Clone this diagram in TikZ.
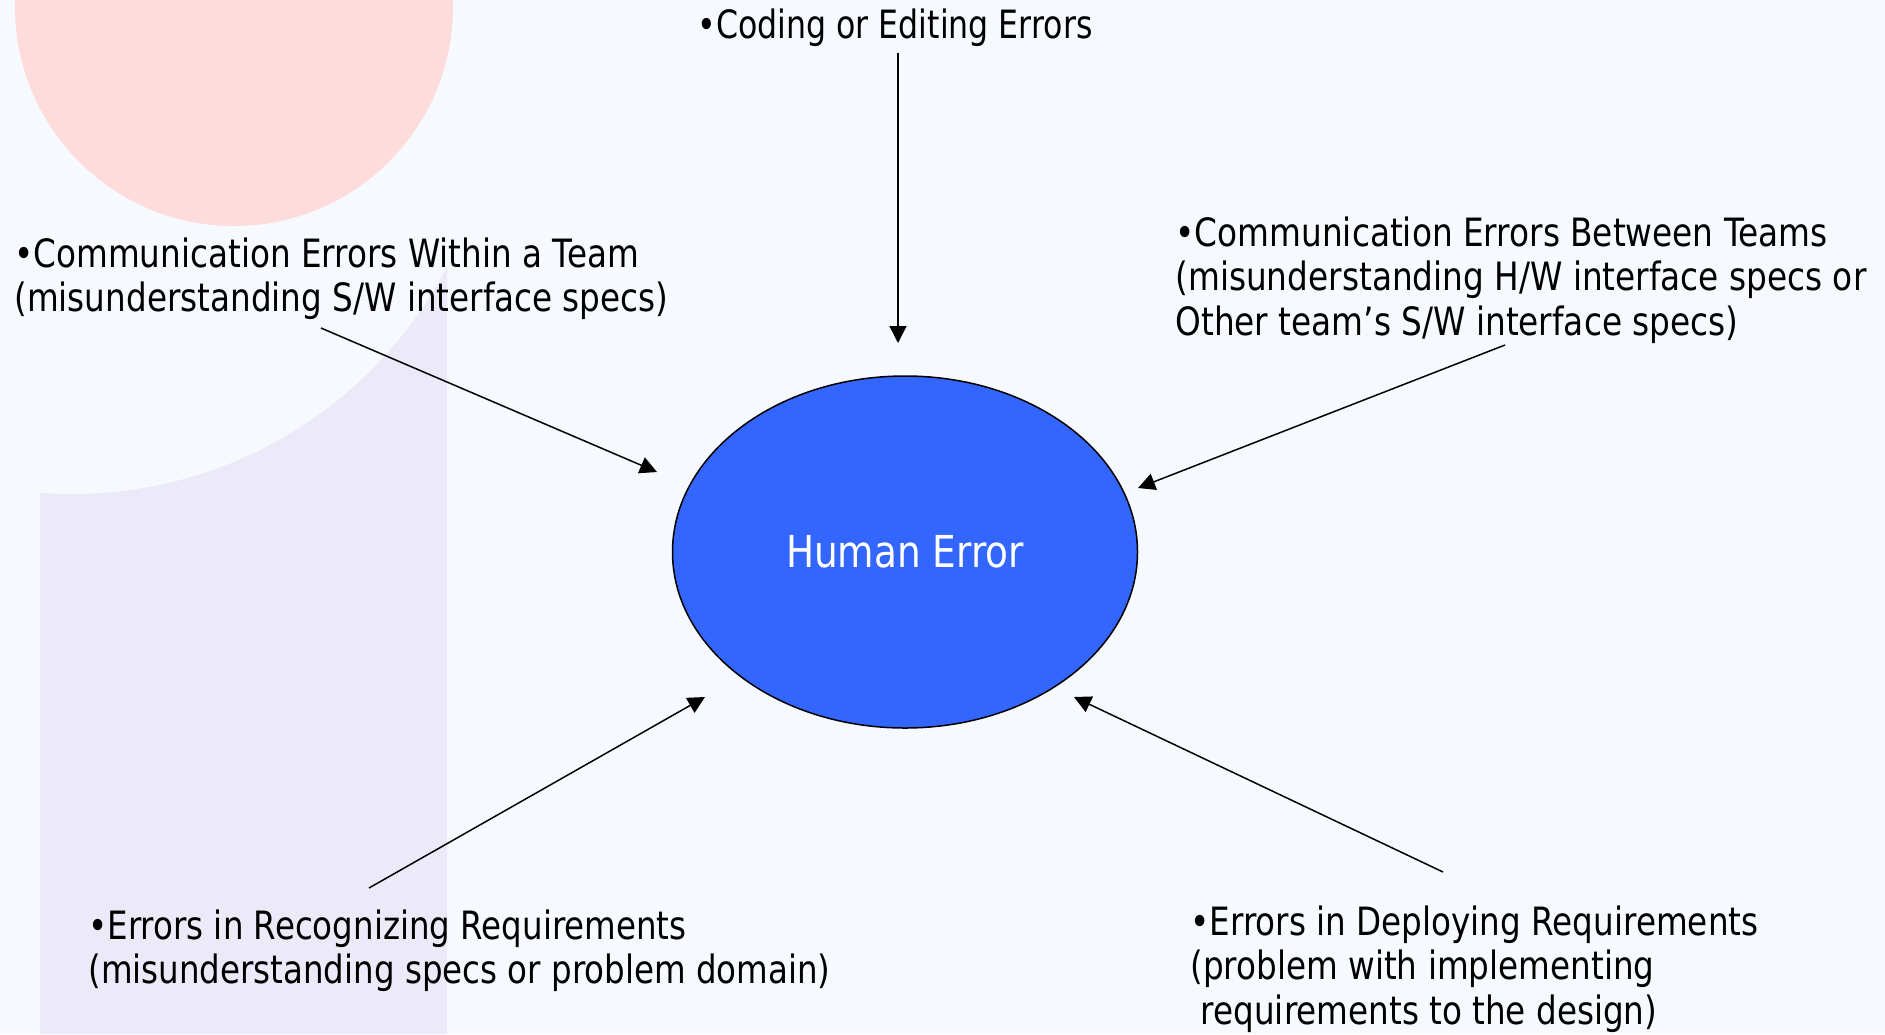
\documentclass[tikz,border=0pt]{standalone}
\usepackage{fontspec}
\setmainfont{DejaVu Sans}
\usepackage{graphicx}
\usetikzlibrary{arrows.meta,shapes.geometric}
\definecolor{bgc}{RGB}{246,250,254}
\definecolor{pinkc}{RGB}{255,220,220}
\definecolor{lavc}{RGB}{236,234,248}
\definecolor{bluec}{RGB}{51,102,255}
\begin{document}
\begin{tikzpicture}[x=0.5pt,y=-0.5pt,
  lbl/.style={anchor=base west, inner sep=0pt, font=\fontsize{19.5pt}{22.25pt}\selectfont},
  conn/.style={line width=0.75pt, -{Triangle[length=8.5pt,width=8.5pt]}}]
\fill[bgc] (0,0) rectangle (1885,1034);
\useasboundingbox (0,0) rectangle (1885,1034);
\begin{scope}
\clip (40,267) rectangle (447,1034);
\fill[lavc, even odd rule] (40,267) rectangle (447,1034) (72,71) circle[radius=423];
\end{scope}
\fill[pinkc] (234,7) circle[radius=219];

\node[ellipse, draw=black, line width=0.75pt, fill=bluec, minimum width=232.5pt, minimum height=176pt, inner sep=0pt, text=white] (he) at (905,552)
  {\resizebox{119pt}{\height}{\fontsize{22pt}{24pt}\selectfont Human Error}};

\node[lbl] (cod) at (697,38) {\resizebox{197.5pt}{\height}{•Coding or Editing Errors}};
\node[lbl] (win) at (14,267) {\resizebox{327pt}{\height}{\begin{tabular}[t]{@{}l@{}}•Communication Errors Within a Team\\(misunderstanding S/W interface specs)\end{tabular}}};
\node[lbl] (btw) at (1175,246) {\resizebox{345.5pt}{\height}{\begin{tabular}[t]{@{}l@{}}•Communication Errors Between Teams\\(misunderstanding H/W interface specs or\\Other team’s S/W interface specs)\end{tabular}}};
\node[lbl] (rec) at (88,939) {\resizebox{371pt}{\height}{\begin{tabular}[t]{@{}l@{}}•Errors in Recognizing Requirements\\(misunderstanding specs or problem domain)\end{tabular}}};
\node[lbl] (dep) at (1190,935) {\resizebox{284pt}{\height}{\begin{tabular}[t]{@{}l@{}}•Errors in Deploying Requirements\\(problem with implementing\\\ requirements to the design)\end{tabular}}};

\coordinate (t1) at (898,53);   \coordinate (h1) at (898,343);
\coordinate (t2) at (321,328);  \coordinate (h2) at (657,472);
\coordinate (t3) at (1505,345); \coordinate (h3) at (1138,488);
\coordinate (t4) at (369,888);  \coordinate (h4) at (705,697);
\coordinate (t5) at (1443,872); \coordinate (h5) at (1074,697);
\draw[conn] (t1) -- (h1);
\draw[conn] (t2) -- (h2);
\draw[conn] (t3) -- (h3);
\draw[conn] (t4) -- (h4);
\draw[conn] (t5) -- (h5);
\end{tikzpicture}
\end{document}
